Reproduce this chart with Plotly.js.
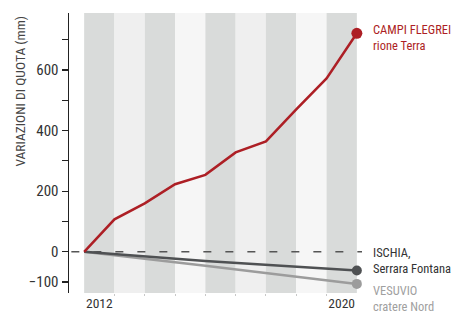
<!DOCTYPE html>
<html>
<head>
<meta charset="utf-8">
<script src="https://cdn.plot.ly/plotly-3.0.1.min.js"></script>
<style>html,body{margin:0;padding:0;background:#fff;}#chart{width:451px;height:315px;}
#chart svg text{font-stretch:condensed;}</style>
</head>
<body>
<div id="chart"></div>
<script>
// ---- data ----
const years = [2012, 2013, 2014, 2015, 2016, 2017, 2018, 2019, 2020, 2021];
const campiFlegrei = [0, 107, 160, 223, 254, 328, 364, 470, 572, 721];
const greyYears = [2012, 2016, 2021];
const ischia = [0, -30, -62];
const vesuvio = [0, -46, -106];
const bandYears = [2012, 2013, 2014, 2015, 2016, 2017, 2018, 2019, 2020];
const xTickVals = [2012.5, 2020.5];
const xTickText = ['2012', '2020'];
const yTickVals = [-100, 0, 200, 400, 600];
const yMinorVals = [100, 300, 500, 700];
const labels = {
  campi: 'CAMPI FLEGREI<br>rione Terra',
  ischia: 'ISCHIA,<br>Serrara Fontana',
  vesuvio: 'VESUVIO<br>cratere Nord'
};
const yTitle = 'VARIAZIONI DI QUOTA (mm)';

// ---- styles ----
const FONT = '"Roboto Condensed", "DejaVu Sans Condensed", "Liberation Sans Narrow", Roboto, sans-serif';
const RED = '#ad1f25', DARK = '#4f5153', LIGHT = '#9c9c9c';
const bandColors = ['#d9dbda', '#efefef', '#d9dbda', '#f6f6f6', '#d9dbda', '#efefef', '#d9dbda', '#f6f6f6', '#d9dbda'];

const shapes = bandYears.map((y, i) => ({
  type: 'rect', xref: 'x', yref: 'paper', x0: y, x1: y + 1, y0: 0, y1: 1,
  fillcolor: bandColors[i], line: {width: 0}, layer: 'below'
}));
shapes.push({
  type: 'line', xref: 'paper', yref: 'y', x0: 0.008, x1: 1, y0: 0, y1: 0,
  line: {color: '#555', width: 1.5, dash: '8px,14px'}, layer: 'below'
});

const last = a => a[a.length - 1];
const traces = [
  {x: greyYears, y: vesuvio, mode: 'lines', line: {color: LIGHT, width: 2.5}, hoverinfo: 'skip'},
  {x: greyYears, y: ischia, mode: 'lines', line: {color: DARK, width: 2.5}, hoverinfo: 'skip'},
  {x: years, y: campiFlegrei, mode: 'lines', line: {color: RED, width: 2.5}, hoverinfo: 'skip'},
  {x: [last(greyYears)], y: [last(vesuvio)], mode: 'markers', marker: {color: LIGHT, size: 10}, cliponaxis: false},
  {x: [last(greyYears)], y: [last(ischia)], mode: 'markers', marker: {color: DARK, size: 10}, cliponaxis: false},
  {x: [last(years)], y: [last(campiFlegrei)], mode: 'markers', marker: {color: RED, size: 11}, cliponaxis: false}
];

const layout = {
  width: 451, height: 315,
  margin: {l: 69, r: 89, t: 13, b: 22, pad: 0},
  paper_bgcolor: '#fff', plot_bgcolor: 'rgba(0,0,0,0)',
  showlegend: false,
  font: {family: FONT, color: '#333', size: 14},
  xaxis: {
    range: [2011.5, 2021.17], showgrid: false, zeroline: false, showline: false,
    tickmode: 'array', tickvals: xTickVals, ticktext: xTickText,
    ticks: '', ticklen: 0,
    tickfont: {family: FONT, size: 13.5, color: '#333'},
    minor: {tickmode: 'array', tickvals: bandYears.slice(1), ticks: 'outside', ticklen: 2, tickcolor: '#c8c8c8', tickwidth: 1}
  },
  yaxis: {
    range: [-136, 788], showgrid: false, zeroline: false,
    showline: true, linecolor: '#222', linewidth: 1.5,
    tickmode: 'array', tickvals: yTickVals,
    ticks: 'outside', ticklen: 6, tickcolor: '#222', tickwidth: 1.2,
    tickfont: {family: FONT, size: 15, color: '#333'},
    minor: {tickmode: 'array', tickvals: yMinorVals, ticks: 'outside', ticklen: 6, tickcolor: '#222', tickwidth: 1.2}
  },
  shapes: shapes,
  annotations: [
    {xref: 'paper', yref: 'paper', x: -0.168, y: 0.722, text: yTitle, textangle: -90,
     showarrow: false, xanchor: 'center', yanchor: 'middle', font: {family: FONT, size: 13.5, color: '#444'}},
    {xref: 'paper', yref: 'paper', x: 1.03, y: 0.914, text: labels.campi, showarrow: false,
     xanchor: 'left', yanchor: 'middle', align: 'left', font: {family: FONT, size: 12.5, color: RED}},
    {xref: 'paper', yref: 'paper', x: 1.03, y: 0.117, text: labels.ischia, showarrow: false,
     xanchor: 'left', yanchor: 'middle', align: 'left', font: {family: FONT, size: 12.5, color: '#333'}},
    {xref: 'paper', yref: 'paper', x: 1.03, y: -0.018, text: labels.vesuvio, showarrow: false,
     xanchor: 'left', yanchor: 'middle', align: 'left', font: {family: FONT, size: 12.5, color: '#a0a0a0'}}
  ]
};

Plotly.newPlot('chart', traces, layout, {displayModeBar: false, staticPlot: true});
</script>
</body>
</html>
